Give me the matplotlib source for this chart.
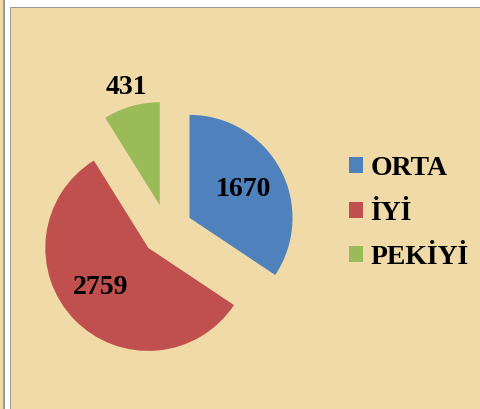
import numpy as np
import matplotlib
matplotlib.use("Agg")
import matplotlib.pyplot as plt
from matplotlib.patches import Rectangle

# data
labels = ["ORTA", "İYİ", "PEKİYİ"]
values = [1670, 2759, 431]
colors = ["#4F81BD", "#C0504D", "#9BBB59"]

W, H = 480, 409
fig = plt.figure(figsize=(W / 100, H / 100), dpi=100)
fig.patch.set_facecolor("white")

paper = "#F0DBA8"
# left strip + main panel with grey borders (pixel coords)
def px_rect(x0, y0, x1, y1, **kw):
    fig.add_artist(Rectangle((x0 / W, 1 - y1 / H), (x1 - x0) / W, (y1 - y0) / H,
                             transform=fig.transFigure, zorder=-5, **kw))

px_rect(0, 0, 3.5, H, facecolor=paper, edgecolor="none")
px_rect(3, 0, 4.5, H, facecolor="#999999", edgecolor="none")
px_rect(10, 7, W, H, facecolor=paper, edgecolor="none")
px_rect(10, 6.5, W, 8, facecolor="#999999", edgecolor="none")
px_rect(9.5, 6.5, 11, H, facecolor="#999999", edgecolor="none")

# pie axes: centre (166.8, 230) px, radius 103 px
cx, cy, R = 166.8, 230.0, 103.0
lim = 1.6
side = 2 * lim * R
ax = fig.add_axes([(cx - side / 2) / W, (H - cy - side / 2) / H, side / W, side / H])
ax.set_facecolor("none")
ax.set_zorder(2)

total = sum(values)
wedges, texts, autotexts = ax.pie(
    values, colors=colors, startangle=90, counterclock=False,
    explode=[0.25, 0.25, 0.25], pctdistance=0.59,
    autopct=lambda p: f"{p * total / 100:.0f}",
    textprops=dict(family="Liberation Serif", weight="bold", size=20, color="black"),
    wedgeprops=dict(linewidth=0),
)
# small slice label sits outside
w = wedges[2]
ang = np.deg2rad((w.theta1 + w.theta2) / 2)
autotexts[2].set_position((w.center[0] + 1.19 * np.cos(ang), w.center[1] + 1.19 * np.sin(ang)))
w = wedges[1]
ang = np.deg2rad((w.theta1 + w.theta2) / 2 - 4)
autotexts[1].set_position((w.center[0] + 0.6 * np.cos(ang), w.center[1] + 0.6 * np.sin(ang)))

ax.set_xlim(-lim, lim)
ax.set_ylim(-lim, lim)
ax.set_aspect("equal")
ax.axis("off")

leg = fig.legend(wedges, labels, loc="center left",
                 bbox_to_anchor=(349 / W, 1 - 213 / H),
                 frameon=False, borderpad=0, borderaxespad=0,
                 handlelength=0.5, handleheight=0.5, handletextpad=0.27,
                 labelspacing=0.7,
                 prop=dict(family="Liberation Serif", weight="bold", size=20))

fig.savefig("out.png", dpi=100)
